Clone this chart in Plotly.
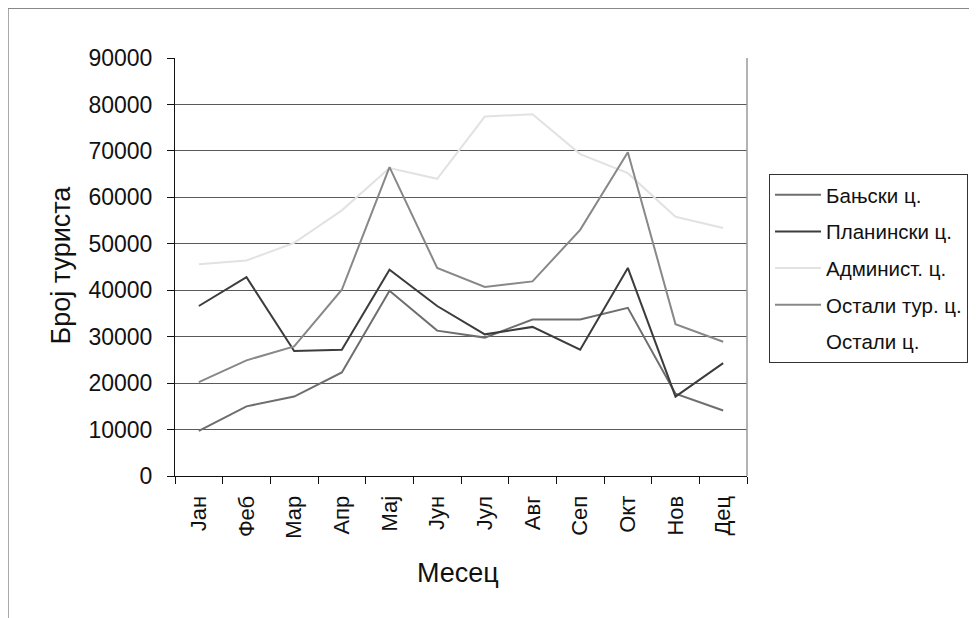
import plotly.graph_objects as go

months = ["Јан", "Феб", "Мар", "Апр", "Мај", "Јун", "Јул", "Авг", "Сеп", "Окт", "Нов", "Дец"]

banjski = [9700, 15000, 17100, 22300, 39900, 31300, 29800, 33700, 33700, 36200, 17700, 14100]
planinski = [36600, 42800, 26900, 27200, 44400, 36600, 30500, 32100, 27200, 44800, 17100, 24300]
administ = [45600, 46400, 50200, 57200, 66300, 64000, 77400, 77900, 69300, 65200, 55800, 53400]
ostali_tur = [20200, 24900, 27900, 40100, 66500, 44800, 40700, 41900, 53000, 69700, 32700, 28900]
ostali = [None] * 12

series = [
    ("Бањски ц.", banjski, "#6e6e6e"),
    ("Планински ц.", planinski, "#3c3c3c"),
    ("Админист. ц.", administ, "#e2e2e2"),
    ("Остали тур. ц.", ostali_tur, "#888888"),
    ("Остали ц.", ostali, "#ffffff"),
]

FONT = "Liberation Sans, Arial, sans-serif"

fig = go.Figure()
for i, (name, vals, col) in enumerate(series):
    fig.add_trace(go.Scatter(
        x=months, y=vals, name=name, mode="lines",
        line=dict(color=col, width=2),
        legendgroup=f"g{i}",
    ))

fig.update_layout(
    width=977, height=618,
    margin=dict(l=167, r=238, t=50, b=150, autoexpand=False),
    paper_bgcolor="white", plot_bgcolor="white",
    font=dict(family=FONT, size=21, color="#111111"),
    showlegend=True,
    legend=dict(
        x=1.0385, y=0.7225, xanchor="left", yanchor="top",
        bordercolor="#333333", borderwidth=1,
        font=dict(family=FONT, size=20.5, color="#111111"),
        tracegroupgap=7,
        itemwidth=46,
    ),
    xaxis=dict(
        type="category",
        showline=True, linecolor="#111111", linewidth=1,
        ticks="outside", ticklen=7, tickcolor="#111111",
        tickson="boundaries",
        tickangle=-90,
        tickfont=dict(family=FONT, size=22, color="#111111"),
        ticklabelstandoff=10,
        showgrid=False,
        range=[-0.5, 11.5],
    ),
    yaxis=dict(
        range=[0, 90000], dtick=10000, tickformat="d",
        showline=True, linecolor="#111111", linewidth=1,
        ticks="outside", ticklen=7, tickcolor="#111111",
        tickfont=dict(family=FONT, size=23, color="#111111"),
        showgrid=True, gridcolor="#5a5a5a", gridwidth=1,
        zeroline=False,
        ticklabelstandoff=10,
    ),
    annotations=[
        dict(text="Месец", xref="paper", yref="paper", x=0.495, y=-0.233,
             xanchor="center", yanchor="middle", showarrow=False,
             font=dict(family=FONT, size=27, color="#111111")),
        dict(text="Број туриста", xref="paper", yref="paper", x=-0.1976, y=0.506,
             xanchor="center", yanchor="middle", showarrow=False, textangle=-90,
             font=dict(family=FONT, size=27, color="#111111")),
    ],
    shapes=[
        dict(type="line", xref="paper", yref="paper", x0=1, x1=1, y0=0, y1=1,
             line=dict(color="#9a9a9a", width=1.5)),
        dict(type="line", xref="paper", yref="paper", x0=-0.292, x1=-0.292, y0=-0.4, y1=1.119,
             line=dict(color="#888888", width=1.5)),
        dict(type="line", xref="paper", yref="paper", x0=-0.292, x1=1.45, y0=1.119, y1=1.119,
             line=dict(color="#888888", width=1.5)),
    ],
)

fig.write_html("out.html")
